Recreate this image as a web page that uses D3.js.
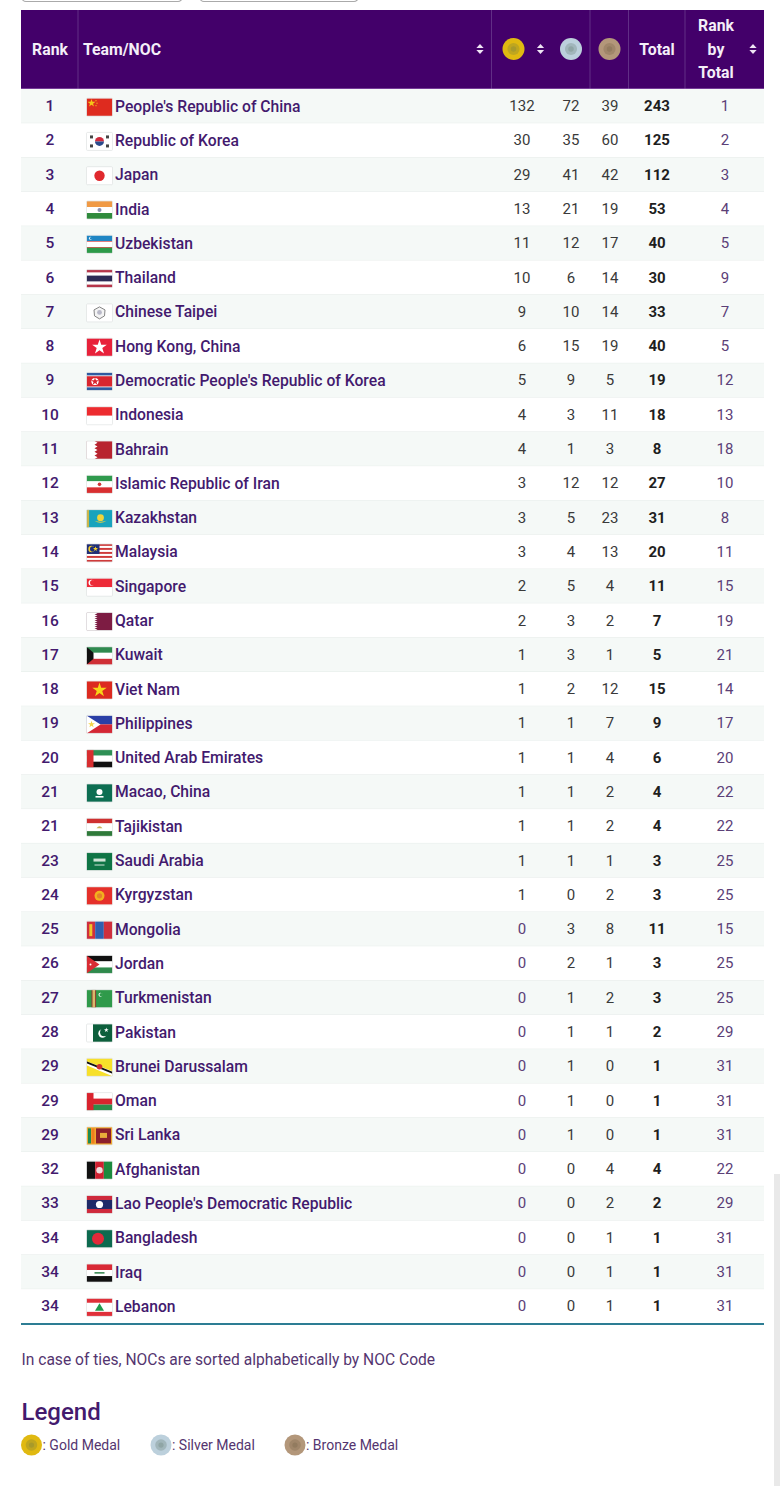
<!DOCTYPE html>
<html>
<head>
<meta charset="utf-8">
<script src="https://cdn.jsdelivr.net/npm/d3@7"></script>
<style>
  html, body { margin: 0; padding: 0; background: #fff; overflow: hidden; }
  text { font-family: Roboto, sans-serif; }
  .head { fill: #f4eef8; font-size: 15.8px; font-weight: 700; }
  .team { fill: #431a6e; font-size: 15.7px; font-weight: 500; }
  .rank { fill: #431a6e; font-size: 15.5px; font-weight: 500; }
  .num { fill: #3a3a3a; font-size: 15px; }
  .zero, .rbt { fill: #5b4077; font-size: 15px; }
  .tot { fill: #1e1e1e; font-size: 15px; font-weight: 700; }
  .note { fill: #54356f; font-size: 15.6px; }
  .legendtitle { fill: #431a6e; font-size: 24px; font-weight: 500; }
  .legendlabel { fill: #54356f; font-size: 14px; }
</style>
</head>
<body>
<div id="chart"></div>
<script>
const ranks = [1,2,3,4,5,6,7,8,9,10,11,12,13,14,15,16,17,18,19,20,21,21,23,24,25,26,27,28,29,29,29,32,33,34,34,34];
const teams = ["People's Republic of China","Republic of Korea","Japan","India","Uzbekistan","Thailand","Chinese Taipei","Hong Kong, China","Democratic People's Republic of Korea","Indonesia","Bahrain","Islamic Republic of Iran","Kazakhstan","Malaysia","Singapore","Qatar","Kuwait","Viet Nam","Philippines","United Arab Emirates","Macao, China","Tajikistan","Saudi Arabia","Kyrgyzstan","Mongolia","Jordan","Turkmenistan","Pakistan","Brunei Darussalam","Oman","Sri Lanka","Afghanistan","Lao People's Democratic Republic","Bangladesh","Iraq","Lebanon"];
const gold = [132,30,29,13,11,10,9,6,5,4,4,3,3,3,2,2,1,1,1,1,1,1,1,1,0,0,0,0,0,0,0,0,0,0,0,0];
const silver = [72,35,41,21,12,6,10,15,9,3,1,12,5,4,5,3,3,2,1,1,1,1,1,0,3,2,1,1,1,1,1,0,0,0,0,0];
const bronze = [39,60,42,19,17,14,14,19,5,11,3,12,23,13,4,2,1,12,7,4,2,2,1,2,8,1,2,1,0,0,0,4,2,1,1,1];
const totals = [243,125,112,53,40,30,33,40,19,18,8,27,31,20,11,7,5,15,9,6,4,4,3,3,11,3,3,2,1,1,1,4,2,1,1,1];
const rankByTotal = [1,2,3,4,5,9,7,5,12,13,18,10,8,11,15,19,21,14,17,20,22,22,25,25,15,25,25,29,31,31,31,22,29,31,31,31];
const legendLabels = ["Gold Medal","Silver Medal","Bronze Medal"];
const noteText = "In case of ties, NOCs are sorted alphabetically by NOC Code";

const width = 780, height = 1486;
const left = 21, right = 764, headTop = 10, headBottom = 89, tableBottom = 1324;
const colX = {rank: 50, gold: 522, silver: 571, bronze: 610, total: 657, rbt: 725};
const medalColors = {gold: ["#e0b911","#a89a2a"], silver: ["#bcd0dc","#8fa5a5"], bronze: ["#b3977a","#927b5f"]};

const svg = d3.select("#chart").append("svg")
  .attr("width", width).attr("height", height)
  .style("display", "block");

const y = d3.scaleBand().domain(d3.range(teams.length)).range([headBottom, tableBottom - 0.5]);

// cut off form controls above the table, and the scrollbar
[[22,182],[200,358]].forEach(p => {
  svg.append("rect").attr("x", p[0]).attr("y", -8).attr("width", p[1]-p[0]).attr("height", 9.5)
    .attr("rx", 4).attr("fill", "#fff").attr("stroke", "#aaa").attr("stroke-width", 1.2);
});
svg.append("rect").attr("x", 774).attr("y", 1174).attr("width", 6).attr("height", 312).attr("fill", "#e9e9e9");

// header
svg.append("rect").attr("x", left).attr("y", headTop).attr("width", right-left).attr("height", headBottom-headTop).attr("fill", "#43006a");
[78,491.5,590,628.5,685].forEach(x => {
  svg.append("line").attr("x1", x).attr("x2", x).attr("y1", headTop).attr("y2", headBottom)
    .attr("stroke", "#6a3a8e").attr("stroke-width", 0.8);
});
svg.append("line").attr("x1", left).attr("x2", right).attr("y1", headBottom).attr("y2", headBottom).attr("stroke", "#a878c4").attr("stroke-width", 1);

const headMid = 49;
const headText = (t, x, yy, anchor) => svg.append("text").attr("class", "head").attr("x", x).attr("y", yy)
  .attr("text-anchor", anchor || "middle").attr("dominant-baseline", "central").text(t);
headText("Rank", 50, headMid);
headText("Team/NOC", 83, headMid, "start");
headText("Total", 657, headMid);
headText("Rank", 716, 25);
headText("by", 716, 49);
headText("Total", 716, 72);

// sort arrows
[480,540.5,753].forEach(x => {
  const g = svg.append("g").attr("transform", `translate(${x},${headMid})`);
  g.append("path").attr("d", "M-3.6,-1 L0,-5 L3.6,-1 Z").attr("fill", "#efe6f4");
  g.append("path").attr("d", "M-3.6,1 L0,5 L3.6,1 Z").attr("fill", "#efe6f4");
});

function medal(parent, cx, cy, r, kind) {
  const c = medalColors[kind];
  const g = parent.append("g").attr("transform", `translate(${cx},${cy})`);
  g.append("circle").attr("r", r).attr("fill", c[0]);
  g.append("circle").attr("r", r*0.55).attr("fill", c[1]).attr("opacity", 0.6);
  g.append("circle").attr("r", r*0.25).attr("fill", c[1]);
}
medal(svg, 513.5, headMid, 11, "gold");
medal(svg, 571, headMid, 11, "silver");
medal(svg, 609.5, headMid, 11, "bronze");

// flag helpers, drawn in a 26x18 box
const W = 26, H = 18;
function hs(g, cols, w) {
  const tot = w ? d3.sum(w) : cols.length; let a = 0;
  cols.forEach((c, i) => {
    const h = (w ? w[i] : 1) / tot * H;
    g.append("rect").attr("x", 0).attr("y", a).attr("width", W).attr("height", h).attr("fill", c);
    a += h;
  });
}
function vs(g, cols, w) {
  const tot = w ? d3.sum(w) : cols.length; let a = 0;
  cols.forEach((c, i) => {
    const d = (w ? w[i] : 1) / tot * W;
    g.append("rect").attr("x", a).attr("y", 0).attr("width", d).attr("height", H).attr("fill", c);
    a += d;
  });
}
const dot = (g, x, yy, r, c) => g.append("circle").attr("cx", x).attr("cy", yy).attr("r", r).attr("fill", c);
const box = (g, x, yy, w, h, c) => g.append("rect").attr("x", x).attr("y", yy).attr("width", w).attr("height", h).attr("fill", c);
const poly = (g, d, c) => g.append("path").attr("d", d).attr("fill", c);
const star = (g, x, yy, r, c) => g.append("path").attr("transform", `translate(${x},${yy})`)
  .attr("d", d3.symbol(d3.symbolStar, r*r*2.2)()).attr("fill", c);

const flags = {
  "People's Republic of China": g => { hs(g, ["#de2b1f"]); star(g, 5, 5, 3, "#f5c518"); dot(g, 9.5, 2.5, .6, "#f5c518"); dot(g, 10.5, 5, .6, "#f5c518"); dot(g, 9.5, 7.5, .6, "#f5c518"); },
  "Republic of Korea": g => { hs(g, ["#fff"]); poly(g, "M8.5,9 A4.5,4.5 0 0 1 17.5,9 Z", "#cf2a3c"); poly(g, "M8.5,9 A4.5,4.5 0 0 0 17.5,9 Z", "#2a4a8c");
    [[5,4.5],[21,4.5],[5,13.5],[21,13.5]].forEach(p => box(g, p[0]-1.5, p[1]-1.5, 3, 3, "#444")); },
  "Japan": g => { hs(g, ["#fff"]); dot(g, 13, 9, 5.2, "#e0292e"); },
  "India": g => { hs(g, ["#f09a45","#fff","#2f8a3c"]); dot(g, 13, 9, 2, "#8a8fb0"); },
  "Uzbekistan": g => { hs(g, ["#1f86c4","#fff","#2c9a49"]); dot(g, 4, 3, 1.5, "#fff"); dot(g, 4.8, 3, 1.3, "#1f86c4"); box(g, 0, 5.7, W, .6, "#d33"); box(g, 0, 11.7, W, .6, "#d33"); },
  "Thailand": g => hs(g, ["#b5354a","#fff","#2c2a55","#fff","#b5354a"], [1,1,2,1,1]),
  "Chinese Taipei": g => { hs(g, ["#fff"]); poly(g, "M13,3 L18.5,6 L18,12 L13,15 L8,12 L7.5,6 Z", "#f4f4f4"); g.append("path").attr("d", "M13,3 L18.5,6 L18,12 L13,15 L8,12 L7.5,6 Z").attr("fill", "none").attr("stroke", "#777").attr("stroke-width", .9); dot(g, 13, 8.5, 2.4, "#b9b9c8"); },
  "Hong Kong, China": g => { hs(g, ["#e8213a"]); star(g, 13, 9, 5.5, "#fff"); },
  "Democratic People's Republic of Korea": g => { hs(g, ["#2f5aa0","#fff","#d9262f","#fff","#2f5aa0"], [3,.6,10,.6,3]); dot(g, 8.5, 9, 3.6, "#fff"); star(g, 8.5, 9, 3, "#d9262f"); },
  "Indonesia": g => hs(g, ["#ed2b2f","#fff"]),
  "Bahrain": g => { hs(g, ["#b8242f"]); poly(g, "M0,0 H8 L11,1.8 L8,3.6 L11,5.4 L8,7.2 L11,9 L8,10.8 L11,12.6 L8,14.4 L11,16.2 L8,18 H0 Z", "#fff"); },
  "Islamic Republic of Iran": g => { hs(g, ["#2f9a4d","#fff","#d82f30"]); dot(g, 13, 9, 1.8, "#cf3838"); },
  "Kazakhstan": g => { hs(g, ["#18a3bd"]); box(g, 0, 0, 2.6, H, "#c9b64b"); dot(g, 14, 8, 3.4, "#f0d43a"); poly(g, "M8,11 Q14,15 20,11 Q14,13 8,11 Z", "#f0d43a"); },
  "Malaysia": g => { hs(g, ["#cf3a3a","#fff","#cf3a3a","#fff","#cf3a3a","#fff","#cf3a3a","#fff","#cf3a3a"]); box(g, 0, 0, 13, 10, "#1f2f78"); dot(g, 5, 5, 3.2, "#f6cf2b"); dot(g, 6.2, 5, 2.7, "#1f2f78"); star(g, 9, 5, 1.9, "#f6cf2b"); },
  "Singapore": g => { hs(g, ["#ed2a38","#fff"]); dot(g, 5, 4.5, 3, "#fff"); dot(g, 6.3, 4.5, 2.8, "#ed2a38"); },
  "Qatar": g => { hs(g, ["#7d1c43"]); poly(g, "M0,0 H8 L11,1 L8,2 L11,3 L8,4 L11,5 L8,6 L11,7 L8,8 L11,9 L8,10 L11,11 L8,12 L11,13 L8,14 L11,15 L8,16 L11,17 L8,18 H0 Z", "#fff"); },
  "Kuwait": g => { hs(g, ["#2f8a4f","#fff","#cf2f36"]); poly(g, "M0,0 L7,6 V12 L0,18 Z", "#111"); },
  "Viet Nam": g => { hs(g, ["#dc2a20"]); star(g, 13, 9, 5.4, "#f7d417"); },
  "Philippines": g => { hs(g, ["#2a3fa6","#d42734"]); poly(g, "M0,0 L14,9 L0,18 Z", "#fff"); star(g, 5, 9, 2.6, "#f2d44a"); },
  "United Arab Emirates": g => { hs(g, ["#2e8f55","#fff","#111"]); box(g, 0, 0, 7, H, "#d82e30"); },
  "Macao, China": g => { hs(g, ["#0d6e52"]); dot(g, 13, 8, 3, "#fff"); box(g, 9, 12, 8, 1.6, "#fff"); },
  "Tajikistan": g => { hs(g, ["#cf3030","#fff","#2f7a3a"], [2,3,2]); poly(g, "M10,10 Q13,6 16,10 Z", "#c8b25a"); },
  "Saudi Arabia": g => { hs(g, ["#0f7545"]); box(g, 7, 6, 12, 3, "#cfe4d6"); box(g, 8, 12, 10, .9, "#e6f0ea"); },
  "Kyrgyzstan": g => { hs(g, ["#e5302a"]); dot(g, 13, 9, 5, "#f2b01e"); dot(g, 13, 9, 2.6, "#e5802a"); },
  "Mongolia": g => { vs(g, ["#cf2f3d","#2f5fb0","#cf2f3d"]); box(g, 2.8, 3, 3, 12, "#f0c52a"); },
  "Jordan": g => { hs(g, ["#111","#fff","#2f8a4c"]); poly(g, "M0,0 L13,9 L0,18 Z", "#d82c33"); dot(g, 4, 9, 1, "#fff"); },
  "Turkmenistan": g => { hs(g, ["#2f9a4a"]); box(g, 5, 0, 4.6, H, "#8a3c2a"); box(g, 6, 0, 2.6, H, "#d8b96a"); dot(g, 14, 5, 2, "#fff"); dot(g, 14.8, 5, 1.8, "#2f9a4a"); },
  "Pakistan": g => { vs(g, ["#fff","#0d5f3c"], [1,3]); dot(g, 16, 9.5, 4.2, "#fff"); dot(g, 17.6, 8.3, 4, "#0d5f3c"); star(g, 19.8, 6, 1.8, "#fff"); },
  "Brunei Darussalam": g => { hs(g, ["#f7e02a"]); poly(g, "M0,3 L26,13 V18 L0,7 Z", "#fff"); poly(g, "M0,5 L26,15.5 V13.5 L0,3 Z", "#111"); dot(g, 13, 8.5, 2.8, "#cf3030"); },
  "Oman": g => { hs(g, ["#fff","#d9232e","#2d8c4b"]); box(g, 0, 0, 7, H, "#d9232e"); },
  "Sri Lanka": g => { hs(g, ["#f0a92e"]); box(g, 1.5, 1.5, 3, 15, "#1f8a4f"); box(g, 5, 1.5, 3, 15, "#ef7f1e"); box(g, 9.5, 1.5, 15, 15, "#8c1f2b"); box(g, 13.5, 6, 7, 5, "#e8ad3a"); },
  "Afghanistan": g => { vs(g, ["#111","#cf1f2f","#1c8a3d"]); dot(g, 13, 9, 3.2, "#f2dede"); },
  "Lao People's Democratic Republic": g => { hs(g, ["#cf2a3c","#1f2a68","#cf2a3c"], [1,2,1]); dot(g, 13, 9, 3.6, "#fff"); },
  "Bangladesh": g => { hs(g, ["#0d6a4f"]); dot(g, 11.5, 9, 6, "#e12a3a"); },
  "Iraq": g => { hs(g, ["#d92a36","#fff","#111"]); box(g, 8, 8, 10, 1.6, "#3c8a56"); },
  "Lebanon": g => { hs(g, ["#e0303a","#fff","#e0303a"], [1,2,1]); poly(g, "M13,5 L17.5,12.5 H8.5 Z", "#1f9a4d"); }
};

// rows
const rows = svg.selectAll("g.row").data(teams).enter().append("g").attr("class", "row");
rows.append("rect")
  .attr("x", left).attr("y", (d,i) => y(i))
  .attr("width", right-left).attr("height", y.bandwidth())
  .attr("fill", (d,i) => i % 2 === 0 ? "#f5f9f7" : "#ffffff");
rows.append("line")
  .attr("x1", left).attr("x2", right)
  .attr("y1", (d,i) => y(i)+y.bandwidth()).attr("y2", (d,i) => y(i)+y.bandwidth())
  .attr("stroke", "#e6ecea").attr("stroke-width", 1);

const mid = i => y(i) + y.bandwidth()/2;
rows.append("text").attr("class", "rank").attr("x", colX.rank).attr("y", (d,i) => mid(i))
  .attr("text-anchor", "middle").attr("dominant-baseline", "central").text((d,i) => ranks[i]);
rows.append("text").attr("class", "team").attr("x", 115).attr("y", (d,i) => mid(i))
  .attr("dominant-baseline", "central").text(d => d);

rows.append("g").attr("transform", (d,i) => `translate(86.5,${mid(i)-8})`).each(function(d) {
  const g = d3.select(this);
  const clipId = "clip" + teams.indexOf(d);
  g.append("clipPath").attr("id", clipId).append("rect").attr("width", W).attr("height", H).attr("rx", 1);
  const inner = g.append("g").attr("clip-path", `url(#${clipId})`);
  flags[d](inner);
  g.append("rect").attr("width", W).attr("height", H).attr("rx", 1).attr("fill", "none").attr("stroke", "#dfe3e2").attr("stroke-width", .7);
});

[["gold", gold], ["silver", silver], ["bronze", bronze]].forEach(([key, vals]) => {
  rows.append("text")
    .attr("class", (d,i) => key === "gold" && vals[i] === 0 ? "zero" : "num")
    .attr("x", colX[key]).attr("y", (d,i) => mid(i))
    .attr("text-anchor", "middle").attr("dominant-baseline", "central")
    .text((d,i) => vals[i]);
});
rows.append("text").attr("class", "tot").attr("x", colX.total).attr("y", (d,i) => mid(i))
  .attr("text-anchor", "middle").attr("dominant-baseline", "central").text((d,i) => totals[i]);
rows.append("text").attr("class", "rbt").attr("x", colX.rbt).attr("y", (d,i) => mid(i))
  .attr("text-anchor", "middle").attr("dominant-baseline", "central").text((d,i) => rankByTotal[i]);

svg.append("line").attr("x1", left).attr("x2", right).attr("y1", tableBottom).attr("y2", tableBottom)
  .attr("stroke", "#2d7d94").attr("stroke-width", 1.8);

// footer
svg.append("text").attr("class", "note").attr("x", 21.5).attr("y", 1360).attr("dominant-baseline", "central").text(noteText);
svg.append("text").attr("class", "legendtitle").attr("x", 21.5).attr("y", 1412).attr("dominant-baseline", "central").text("Legend");

const legendX = [31.5, 161, 295];
["gold","silver","bronze"].forEach((k, i) => {
  medal(svg, legendX[i], 1445, 10.5, k);
  svg.append("text").attr("class", "legendlabel").attr("x", legendX[i] + 11).attr("y", 1445)
    .attr("dominant-baseline", "central").text(": " + legendLabels[i]);
});
</script>
</body>
</html>
